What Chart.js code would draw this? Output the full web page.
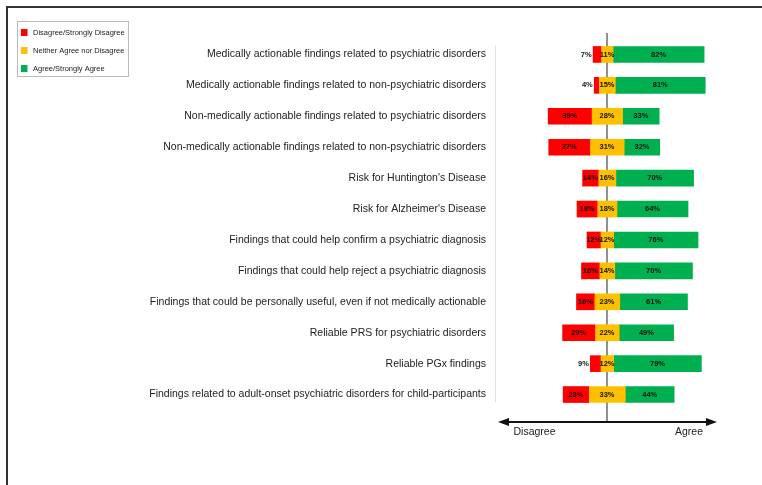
<!DOCTYPE html>
<html>
<head>
<meta charset="utf-8">
<script src="https://cdn.jsdelivr.net/npm/chart.js@4.4.1/dist/chart.umd.min.js"></script>
<style>
  html, body { margin: 0; padding: 0; background: #fff; }
  #wrap { position: relative; width: 762px; height: 485px; overflow: hidden; }
  #frame { position: absolute; left: 6px; top: 6px; width: 800px; height: 600px;
           border-left: 2px solid #333; border-top: 2px solid #333; }
  canvas { position: absolute; left: 0; top: 0; }
</style>
</head>
<body>
<div id="wrap">
  <div id="frame"></div>
  <canvas id="chart" width="762" height="485" style="width:762px;height:485px"></canvas>
</div>
<script>
const categories = [
  'Medically actionable findings related to psychiatric disorders',
  'Medically actionable findings related to non-psychiatric disorders',
  'Non-medically actionable findings related to psychiatric disorders',
  'Non-medically actionable findings related to non-psychiatric disorders',
  "Risk for Huntington's Disease",
  "Risk for Alzheimer's Disease",
  'Findings that could help confirm a psychiatric diagnosis',
  'Findings that could help reject a psychiatric diagnosis',
  'Findings that could be personally useful, even if not medically actionable',
  'Reliable PRS for psychiatric disorders',
  'Reliable PGx findings',
  'Findings related to adult-onset psychiatric disorders for child-participants'
];
const disagree = [7, 4, 39, 37, 14, 18, 12, 16, 16, 29, 9, 23];
const neutral  = [11, 15, 28, 31, 16, 18, 12, 14, 23, 22, 12, 33];
const agree    = [82, 81, 33, 32, 70, 64, 76, 70, 61, 49, 79, 44];

const seriesLabels = ['Disagree/Strongly Disagree', 'Neither Agree nor Disagree', 'Agree/Strongly Agree'];
const seriesColors = ['#FF0000', '#FFC000', '#00B050'];
const axisLabels = ['Disagree', 'Agree'];

const FONT = 'Liberation Sans, Arial, Helvetica, sans-serif';

// floating bars, neutral share centred on zero
const redBars = categories.map((c, i) => [-(neutral[i] / 2 + disagree[i]), -neutral[i] / 2]);
const yellowBars = categories.map((c, i) => [-neutral[i] / 2, neutral[i] / 2]);
const greenBars = categories.map((c, i) => [neutral[i] / 2, neutral[i] / 2 + agree[i]]);
const rawValues = [disagree, neutral, agree];

const extras = {
  id: 'extras',
  beforeDatasetsDraw(chart) {
    const ctx = chart.ctx;
    const x0 = chart.scales.x.getPixelForValue(0);
    ctx.save();
    // faint separator left of the bars
    ctx.strokeStyle = '#e2e2e2';
    ctx.lineWidth = 1;
    ctx.beginPath();
    ctx.moveTo(chart.chartArea.left - 0.5, 45);
    ctx.lineTo(chart.chartArea.left - 0.5, 402);
    ctx.stroke();
    // centre line
    ctx.strokeStyle = '#555';
    ctx.lineWidth = 1.3;
    ctx.beginPath();
    ctx.moveTo(x0, 33);
    ctx.lineTo(x0, 422);
    ctx.stroke();
    ctx.restore();
  },
  afterDatasetsDraw(chart) {
    const ctx = chart.ctx;
    ctx.save();
    ctx.font = 'bold 7.5px ' + FONT;
    ctx.fillStyle = '#111';
    ctx.textBaseline = 'middle';
    chart.data.datasets.forEach((ds, d) => {
      chart.getDatasetMeta(d).data.forEach((bar, i) => {
        const v = rawValues[d][i];
        const left = Math.min(bar.x, bar.base);
        const right = Math.max(bar.x, bar.base);
        if (d === 0 && v < 10) {
          ctx.textAlign = 'right';
          ctx.fillText(v + '%', left - 1.5, bar.y);
        } else {
          ctx.textAlign = 'center';
          ctx.fillText(v + '%', (left + right) / 2, bar.y);
        }
      });
    });
    ctx.restore();
  },
  afterDraw(chart) {
    const ctx = chart.ctx;
    const xs = chart.scales.x;
    const l = xs.getPixelForValue(-100) + 2, r = xs.getPixelForValue(100) - 1, y = 422;
    ctx.save();
    // double-headed arrow
    ctx.strokeStyle = '#111';
    ctx.fillStyle = '#111';
    ctx.lineWidth = 2;
    ctx.beginPath();
    ctx.moveTo(l + 6, y);
    ctx.lineTo(r - 6, y);
    ctx.stroke();
    ctx.beginPath();
    ctx.moveTo(l, y); ctx.lineTo(l + 11, y - 4); ctx.lineTo(l + 11, y + 4); ctx.closePath();
    ctx.fill();
    ctx.beginPath();
    ctx.moveTo(r, y); ctx.lineTo(r - 11, y - 4); ctx.lineTo(r - 11, y + 4); ctx.closePath();
    ctx.fill();
    ctx.font = '10.5px ' + FONT;
    ctx.fillStyle = '#222';
    ctx.textAlign = 'center';
    ctx.textBaseline = 'middle';
    ctx.fillText(axisLabels[0], 534.5, 432);
    ctx.fillText(axisLabels[1], 689, 432);

    // legend box
    ctx.strokeStyle = '#bbb';
    ctx.lineWidth = 1;
    ctx.strokeRect(17.5, 21.5, 111, 55);
    ctx.font = '7.5px ' + FONT;
    ctx.textAlign = 'left';
    chart.data.datasets.forEach((ds, d) => {
      const ly = 32.5 + d * 18;
      ctx.fillStyle = ds.backgroundColor;
      ctx.fillRect(21, ly - 3.5, 6.5, 7);
      ctx.fillStyle = '#222';
      ctx.fillText(ds.label, 33, ly);
    });
    ctx.restore();
  }
};

new Chart(document.getElementById('chart'), {
  type: 'bar',
  data: {
    labels: categories,
    datasets: [
      { label: seriesLabels[0], data: redBars, backgroundColor: seriesColors[0] },
      { label: seriesLabels[1], data: yellowBars, backgroundColor: seriesColors[1] },
      { label: seriesLabels[2], data: greenBars, backgroundColor: seriesColors[2] }
    ]
  },
  options: {
    indexAxis: 'y',
    responsive: false,
    animation: false,
    maintainAspectRatio: false,
    layout: { padding: { left: 0, right: 44, top: 39, bottom: 75 } },
    datasets: { bar: { barThickness: 16, grouped: false, borderWidth: 0 } },
    plugins: { legend: { display: false }, tooltip: { enabled: false } },
    scales: {
      x: { display: false, min: -100, max: 100 },
      y: {
        grid: { display: false, drawTicks: false },
        border: { display: false },
        ticks: { color: '#222', padding: 10, font: { family: FONT, size: 10.5 } },
        afterFit(scale) { scale.width = 496; }
      }
    }
  },
  plugins: [extras]
});
</script>
</body>
</html>
